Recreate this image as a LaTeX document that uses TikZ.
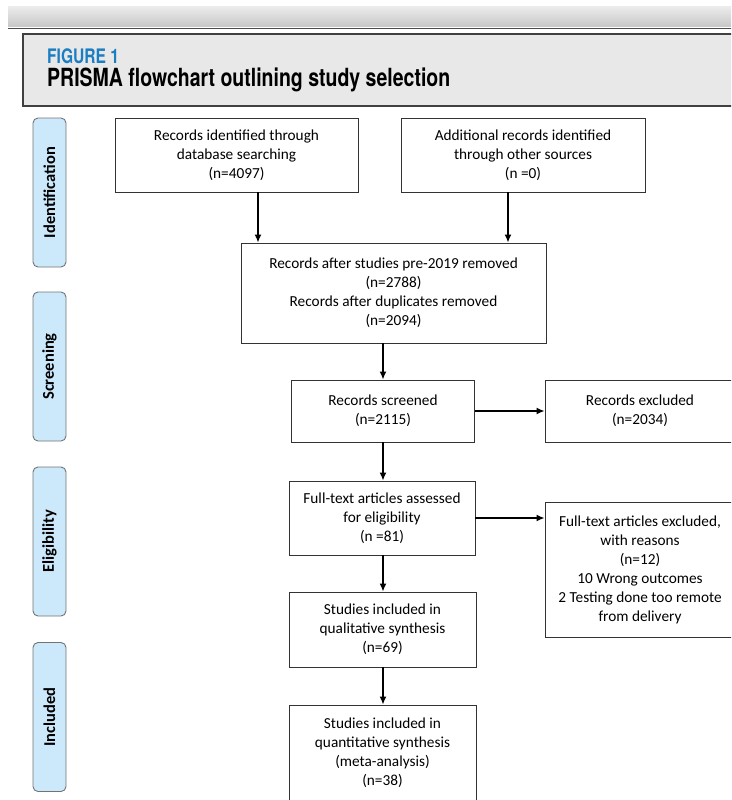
\documentclass[tikz,border=0pt]{standalone}
\usepackage{fontspec}
\setmainfont{Carlito}
\newfontfamily\headfont[FakeStretch=0.78]{TeX Gyre Heros}
\usetikzlibrary{positioning,arrows.meta}
\definecolor{figblue}{RGB}{28,126,194}
\definecolor{stagefill}{RGB}{204,233,252}
\tikzset{
  flowarrow/.style={-{Latex[length=8pt,width=7pt]}, line width=1.4pt},
  recbox/.style={draw=black!80, line width=0.9pt, fill=white, align=center, font=\fontsize{15.3}{19}\selectfont, inner sep=0pt},
  stagebox/.style={draw=black!55, line width=0.9pt, rounded corners=5pt, fill=stagefill, minimum width=149pt, minimum height=33pt, rotate=90, font=\fontsize{16.5}{18}\selectfont\bfseries, inner sep=0pt}
}
\begin{document}
\begin{tikzpicture}[x=1pt, y=-1pt]
  \useasboundingbox (0,0) rectangle (731,800);
  \clip (0,0) rectangle (731,800);
  % header band and caption
  \shade[top color=black!8, bottom color=black!22] (8,7) rectangle (735,27);
  \draw[black!70, line width=1pt] (8,28.5) -- (735,28.5);
  \draw[black!75, fill=black!9, line width=1.4pt] (23,34) rectangle (740,106);
  \node[anchor=west, inner sep=0pt, text=figblue, font=\headfont\bfseries\fontsize{20}{22}\selectfont] (figlbl) at (47,56) {FIGURE 1};
  \node[anchor=west, inner sep=0pt, font=\headfont\bfseries\fontsize{25}{27}\selectfont] (figttl) at (47,80) {PRISMA flowchart outlining study selection};

  % stages
  \node[stagebox] (ident) at (49.5,192.5) {Identification};
  \node[stagebox] (screen) at (49.5,366.5) {Screening};
  \node[stagebox] (elig) at (49.5,541.5) {Eligibility};
  \node[stagebox] (incl) at (49.5,717) {Included};

  % records
  \node[recbox, minimum width=243pt, minimum height=74pt] (dbase) at (236.5,155) {Records identified through\\database searching\\(n=4097)};
  \node[recbox, minimum width=244pt, minimum height=74pt] (other) at (523,155) {Additional records identified\\through other sources\\(n =0)};
  \node[recbox, minimum width=305pt, minimum height=100pt] (dedup) at (393.5,293) {Records after studies pre-2019 removed\\(n=2788)\\Records after duplicates removed\\(n=2094)};
  \node[recbox, minimum width=183pt, minimum height=62pt] (screened) at (383,411) {Records screened\\(n=2115)};
  \node[recbox, minimum width=190pt, minimum height=62pt] (excl) at (640,411) {Records excluded\\(n=2034)};
  \node[recbox, minimum width=186pt, minimum height=74pt] (fulltext) at (382,518) {Full-text articles assessed\\for eligibility\\(n =81)};
  \node[recbox, minimum width=190pt, minimum height=135pt] (ftexcl) at (640,569.5) {Full-text articles excluded,\\with reasons\\(n=12)\\10 Wrong outcomes\\2 Testing done too remote\\from delivery};
  \node[recbox, minimum width=187pt, minimum height=75pt] (qual) at (382.5,629.5) {Studies included in\\qualitative synthesis\\(n=69)};
  \node[recbox, minimum width=187pt, minimum height=96pt] (quant) at (382.5,753) {Studies included in\\quantitative synthesis\\(meta-analysis)\\(n=38)};

  % connectors
  \draw[flowarrow] (dbase.south -| 258,0) -- (dedup.north -| 258,0);
  \draw[flowarrow] (other.south -| 508,0) -- (dedup.north -| 508,0);
  \draw[flowarrow] (dedup.south -| 383,0) -- (screened.north -| 383,0);
  \draw[flowarrow] (screened) -- (excl);
  \draw[flowarrow] (screened.south -| 383,0) -- (fulltext.north -| 383,0);
  \draw[flowarrow] (fulltext) -- (fulltext -| ftexcl.west);
  \draw[flowarrow] (fulltext.south -| 383,0) -- (qual.north -| 383,0);
  \draw[flowarrow] (qual.south -| 383,0) -- (quant.north -| 383,0);
\end{tikzpicture}
\end{document}
